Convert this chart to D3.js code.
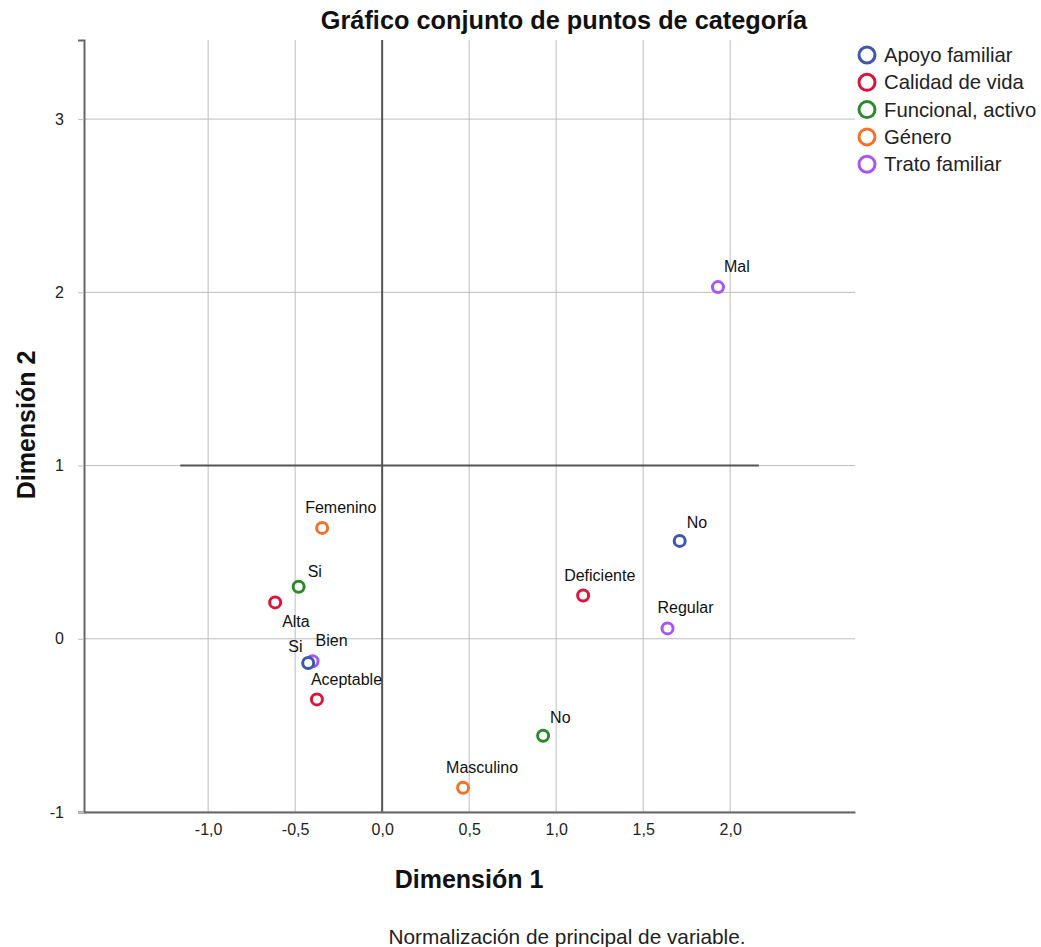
<!DOCTYPE html>
<html lang="es">
<head>
  <meta charset="UTF-8">
  <title>Gráfico conjunto de puntos de categoría</title>
  <script src="https://d3js.org/d3.v7.min.js"></script>
  <style>
    body {
      margin: 0;
      background: #fff;
      font-family: "Liberation Sans", Arial, sans-serif;
    }
  </style>
</head>
<body>
  <div id="chart"></div>
  <script>
    // datos
    const variables = ["Apoyo familiar", "Calidad de vida", "Funcional, activo", "Género", "Trato familiar"];
    const colors = ["#3f58ae", "#dc143c", "#2b8a2b", "#f5712a", "#a855f5"];

    const pointLabels = ["Mal", "No", "Regular", "Deficiente", "Femenino", "Si", "Alta", "Bien", "Si", "Aceptable", "No", "Masculino"];
    const pointVar    = [4, 0, 4, 1, 3, 2, 1, 4, 0, 1, 2, 3];
    const dim1        = [1.93, 1.71, 1.64, 1.155, -0.345, -0.48, -0.615, -0.40, -0.425, -0.375, 0.925, 0.465];
    const dim2        = [2.03, 0.565, 0.06, 0.25, 0.64, 0.30, 0.21, -0.13, -0.14, -0.35, -0.56, -0.86];

    const xTicks = [-1, -0.5, 0, 0.5, 1, 1.5, 2];
    const yTicks = [-1, 0, 1, 2, 3];

    // desplazamiento de etiquetas (px) respecto al punto
    const labelOffsets = [[6, -15], [7, -13], [-10, -15], [-19, -14], [-17, -15], [9, -10],
                          [7, 25], [3, -15], [-20, -11], [-6, -14], [7, -13], [-17, -15]];

    const width = 1041, height = 947;
    const plotL = 84, plotR = 855, plotT = 40, plotB = 812;

    const x = d3.scaleLinear().domain([-1.7135, 2.7174]).range([plotL, plotR]);
    const y = d3.scaleLinear().domain([-1, 3.4566]).range([plotB, plotT]);

    const svg = d3.select("#chart").append("svg")
      .attr("width", width)
      .attr("height", height);

    // rejilla
    svg.append("g").selectAll("line")
      .data(xTicks)
      .join("line")
      .attr("x1", d => x(d)).attr("x2", d => x(d))
      .attr("y1", plotT).attr("y2", plotB)
      .attr("stroke", "#bdbdbd").attr("stroke-width", 1);

    svg.append("g").selectAll("line")
      .data(yTicks)
      .join("line")
      .attr("x1", plotL).attr("x2", plotR)
      .attr("y1", d => y(d)).attr("y2", d => y(d))
      .attr("stroke", "#bdbdbd").attr("stroke-width", 1);

    // líneas de referencia
    svg.append("line")
      .attr("x1", x(0)).attr("x2", x(0))
      .attr("y1", plotT).attr("y2", plotB)
      .attr("stroke", "#555").attr("stroke-width", 2);
    svg.append("line")
      .attr("x1", x(-1.16)).attr("x2", x(2.165))
      .attr("y1", y(1)).attr("y2", y(1))
      .attr("stroke", "#555").attr("stroke-width", 2);

    // ejes
    const xAxis = svg.append("g")
      .attr("transform", `translate(0,${plotB})`)
      .call(d3.axisBottom(x).tickValues(xTicks).tickSize(0).tickPadding(12)
        .tickFormat(d => d3.format(".1f")(d).replace(".", ",").replace("−", "-")));
    xAxis.select(".domain").attr("stroke", "#666").attr("stroke-width", 2);
    xAxis.selectAll("text").attr("font-size", 16).attr("fill", "#222")
      .attr("font-family", "Liberation Sans, Arial, sans-serif");

    const yAxis = svg.append("g")
      .attr("transform", `translate(${plotL},0)`)
      .call(d3.axisLeft(y).tickValues(yTicks).tickSize(6).tickPadding(14)
        .tickFormat(d => String(d)));
    yAxis.select(".domain").attr("stroke", "#666").attr("stroke-width", 2);
    yAxis.selectAll(".tick line").attr("stroke", "#bdbdbd");
    yAxis.selectAll("text").attr("font-size", 16).attr("fill", "#222")
      .attr("font-family", "Liberation Sans, Arial, sans-serif");

    // puntos
    const pts = d3.range(pointLabels.length);
    svg.append("g").selectAll("circle")
      .data(pts)
      .join("circle")
      .attr("cx", i => x(dim1[i]))
      .attr("cy", i => y(dim2[i]))
      .attr("r", 5.5)
      .attr("fill", "#fff")
      .attr("stroke", i => colors[pointVar[i]])
      .attr("stroke-width", 3);

    svg.append("g").selectAll("text")
      .data(pts)
      .join("text")
      .attr("x", i => x(dim1[i]) + labelOffsets[i][0])
      .attr("y", i => y(dim2[i]) + labelOffsets[i][1])
      .attr("font-size", 16)
      .attr("fill", "#111")
      .text(i => pointLabels[i]);

    // títulos
    svg.append("text")
      .attr("x", 564).attr("y", 29)
      .attr("text-anchor", "middle")
      .attr("font-size", 25.3).attr("font-weight", "bold")
      .attr("fill", "#111")
      .text("Gráfico conjunto de puntos de categoría");

    svg.append("text")
      .attr("x", 469).attr("y", 888)
      .attr("text-anchor", "middle")
      .attr("font-size", 25).attr("font-weight", "bold")
      .attr("fill", "#111")
      .text("Dimensión 1");

    svg.append("text")
      .attr("transform", "translate(35,425) rotate(-90)")
      .attr("text-anchor", "middle")
      .attr("font-size", 25).attr("font-weight", "bold")
      .attr("fill", "#111")
      .text("Dimensión 2");

    svg.append("text")
      .attr("x", 567).attr("y", 944)
      .attr("text-anchor", "middle")
      .attr("font-size", 20.8)
      .attr("fill", "#222")
      .text("Normalización de principal de variable.");

    // leyenda
    const legend = svg.append("g").attr("transform", "translate(867,55)");
    const items = legend.selectAll("g")
      .data(variables)
      .join("g")
      .attr("transform", (d, i) => `translate(0,${i * 27.3})`);
    items.append("circle")
      .attr("r", 8)
      .attr("fill", "#fff")
      .attr("stroke", (d, i) => colors[i])
      .attr("stroke-width", 3);
    items.append("text")
      .attr("x", 17).attr("y", 7)
      .attr("font-size", 20.3)
      .attr("fill", "#222")
      .text(d => d);
  </script>
</body>
</html>
